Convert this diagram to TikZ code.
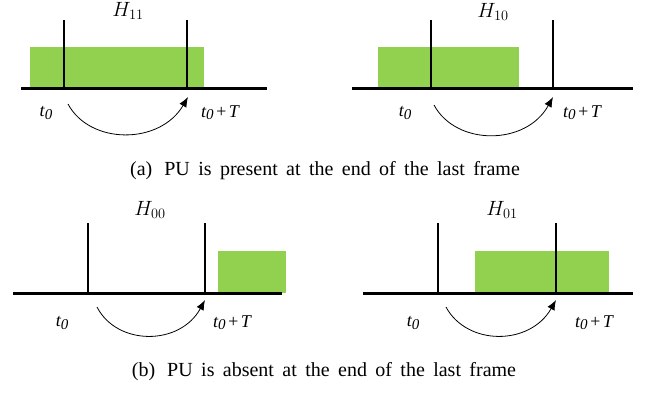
\documentclass[tikz,border=0pt]{standalone}
\usepackage{fontspec}
\setmainfont{Liberation Serif}
\usetikzlibrary{arrows.meta}
\definecolor{FrameGreen}{RGB}{146,208,80}
\newcommand{\tzero}{t\raisebox{-0.25ex}{\fontsize{15bp}{15bp}\selectfont 0}}
\newcommand{\widespace}{\spaceskip=0.42em\relax}

\begin{document}
\begin{tikzpicture}[x=1bp,y=-1bp,line cap=butt,line join=miter]
  \path[use as bounding box] (0,0) rectangle (650,395);
  \fill[white] (0,0) rectangle (650,395);

  \tikzset{
    busy/.style={fill=FrameGreen},
    timeline/.style={line width=3bp,black},
    slot/.style={line width=2.8bp,black},
    jump/.style={-{Latex[length=10bp,width=8bp]},line width=0.8bp,black},
    hyp/.style={inner sep=0pt,font=\fontsize{19bp}{19bp}\selectfont},
    tick/.style={inner sep=0pt,font=\fontsize{18bp}{18bp}\selectfont\itshape},
    caption/.style={inner sep=0pt,font=\fontsize{20bp}{20bp}\selectfont},
  }

  % (a) left: H_11
  \fill[busy] (30,47) rectangle (204,88);
  \draw[timeline] (21,88) -- (267,88);
  \draw[slot] (64,20) -- (64,88);
  \draw[slot] (187,20) -- (187,88);
  \node[hyp] (h11) at (128,11) {$H_{11}$};
  \node[tick] (t11) at (46,113) {\tzero};
  \node[tick] (T11) at (220,113) {\tzero\hspace{0.08em}+\hspace{0.08em}T};
  \coordinate (s11) at (68,104);
  \coordinate (e11) at (188,97);
  \draw[jump] (s11) .. controls (90,145) and (160,145) .. (e11);

  % (a) right: H_10
  \fill[busy] (378,47) rectangle (519,88);
  \draw[timeline] (352,88) -- (633,88);
  \draw[slot] (431,20) -- (431,88);
  \draw[slot] (553,20) -- (553,88);
  \node[hyp] (h10) at (493,12) {$H_{10}$};
  \node[tick] (t10) at (405,113) {\tzero};
  \node[tick] (T10) at (582,113) {\tzero\hspace{0.08em}+\hspace{0.08em}T};
  \coordinate (s10) at (434,105);
  \coordinate (e10) at (553,97);
  \draw[jump] (s10) .. controls (456,146) and (526,146) .. (e10);

  \node[caption] (capa) at (325,171) {\widespace(a)\hspace{0.6em}PU is present at the end of the last frame};

  % (b) left: H_00
  \fill[busy] (218,251) rectangle (286,293);
  \draw[timeline] (13,293) -- (282,293);
  \draw[slot] (88,223) -- (88,293);
  \draw[slot] (205,223) -- (205,293);
  \node[hyp] (h00) at (150,210) {$H_{00}$};
  \node[tick] (t00) at (62,323) {\tzero};
  \node[tick] (T00) at (232,323) {\tzero\hspace{0.08em}+\hspace{0.08em}T};
  \coordinate (s00) at (97,307);
  \coordinate (e00) at (205,300);
  \draw[jump] (s00) .. controls (117,346) and (180,346) .. (e00);

  % (b) right: H_01
  \fill[busy] (475,251) rectangle (609,293);
  \draw[timeline] (363,293) -- (633,293);
  \draw[slot] (438,223) -- (438,293);
  \draw[slot] (556,223) -- (556,293);
  \node[hyp] (h01) at (502,210) {$H_{01}$};
  \node[tick] (t01) at (413,323) {\tzero};
  \node[tick] (T01) at (594,323) {\tzero\hspace{0.08em}+\hspace{0.08em}T};
  \coordinate (s01) at (446,307);
  \coordinate (e01) at (556,300);
  \draw[jump] (s01) .. controls (467,346) and (530,346) .. (e01);

  \node[caption] (capb) at (324,372) {\widespace(b)\hspace{0.6em}PU is absent at the end of the last frame};
\end{tikzpicture}
\end{document}
